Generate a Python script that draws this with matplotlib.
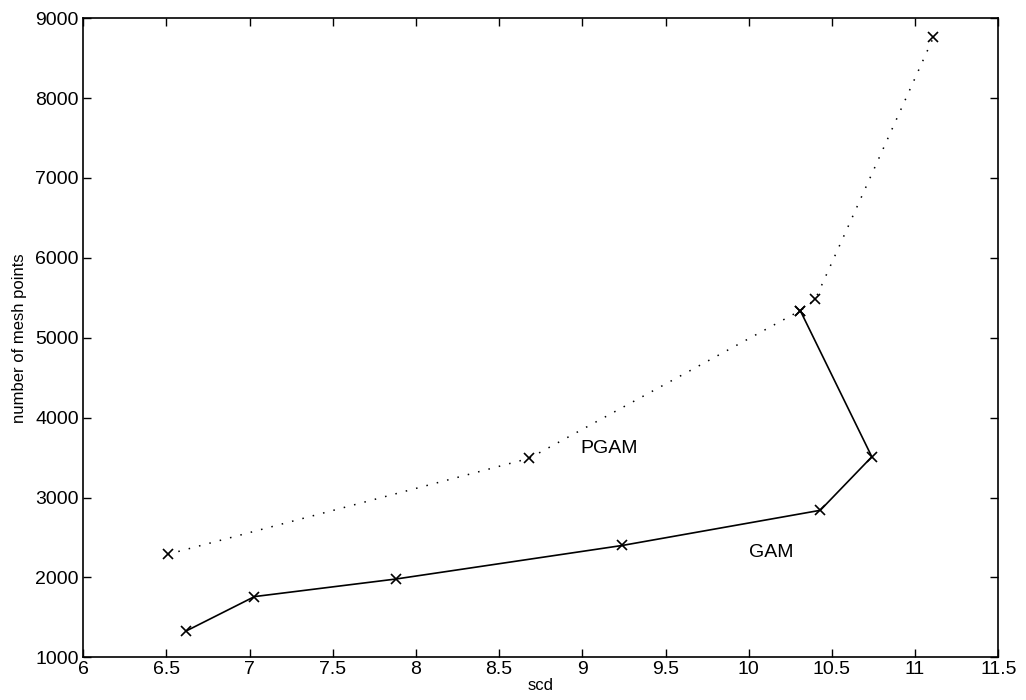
import matplotlib.pyplot as plt

# GAM 曲线数据 (实线)
gam_scd = [6.62, 7.03, 7.88, 9.24, 10.43, 10.74, 10.31]
gam_pts = [1330, 1760, 1980, 2400, 2840, 3510, 5340]

# PGAM 曲线数据 (点线)
pgam_scd = [6.51, 8.68, 10.31, 10.40, 11.11]
pgam_pts = [2290, 3490, 5340, 5480, 8760]

xticks = [6, 6.5, 7, 7.5, 8, 8.5, 9, 9.5, 10, 10.5, 11, 11.5]
yticks = [1000, 2000, 3000, 4000, 5000, 6000, 7000, 8000, 9000]

plt.rcParams['font.family'] = ['Liberation Sans', 'DejaVu Sans']

fig = plt.figure(figsize=(10.26, 7), dpi=100)
ax = fig.add_axes([0.081, 0.061, 0.892, 0.913])

ax.plot(gam_scd, gam_pts, '-', color='black', lw=1.2,
        marker='x', markersize=7, markeredgewidth=1.2)
ax.plot(pgam_scd, pgam_pts, color='black', lw=1.1, linestyle=(0, (1, 6)),
        marker='x', markersize=7, markeredgewidth=1.2)

ax.text(8.99, 3616, 'PGAM', fontsize=14, va='center', ha='left')
ax.text(10.0, 2314, 'GAM', fontsize=14, va='center', ha='left')

ax.set_xlim(6, 11.5)
ax.set_ylim(1000, 9000)
ax.set_xticks(xticks)
ax.set_xticklabels([f'{t:g}' for t in xticks])
ax.set_yticks(yticks)
ax.tick_params(direction='in', top=True, right=True, length=6, width=1,
               labelsize=14, pad=3)
for s in ax.spines.values():
    s.set_linewidth(1.2)

ax.set_xlabel('scd', fontsize=12, labelpad=0)
ax.set_ylabel('number of mesh points', fontsize=12, labelpad=6)

fig.savefig('out.png', dpi=100)
